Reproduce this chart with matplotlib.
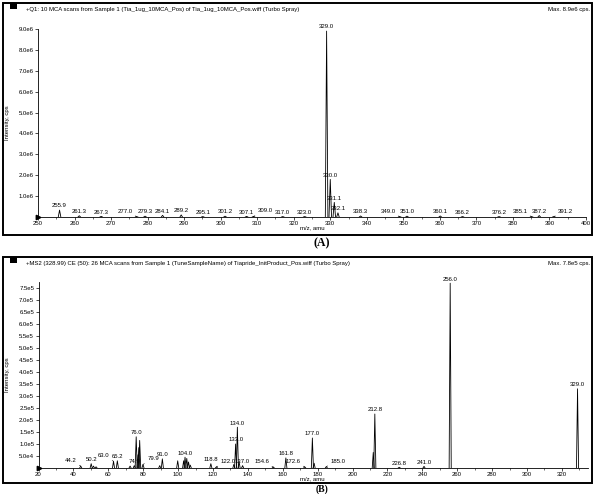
import matplotlib
matplotlib.use('Agg')
import matplotlib.pyplot as plt
from matplotlib.patches import Rectangle
from matplotlib.ticker import MultipleLocator, FuncFormatter

plt.rcParams['font.family'] = ['Liberation Sans', 'DejaVu Sans']

# Panel A: Q1 scan
title_a = '+Q1: 10 MCA scans from Sample 1 (Tia_1ug_10MCA_Pos) of Tia_1ug_10MCA_Pos.wiff (Turbo Spray)'
max_a = 'Max. 8.9e6 cps.'
mz_a = [255.9, 261.3, 267.3, 277.0, 279.3, 284.1, 289.2, 295.1, 301.2, 307.1, 309.0,
        317.0, 323.0, 329.0, 330.0, 331.1, 332.1, 338.3, 349.0, 351.0, 360.1, 366.2,
        376.2, 385.1, 387.2, 391.2]
int_a = [0.33e6, 0.06e6, 0.03e6, 0.02e6, 0.04e6, 0.08e6, 0.10e6, 0.02e6, 0.04e6, 0.03e6, 0.03e6,
         0.02e6, 0.02e6, 8.9e6, 1.8e6, 0.7e6, 0.2e6, 0.05e6, 0.02e6, 0.04e6, 0.05e6, 0.02e6,
         0.02e6, 0.02e6, 0.07e6, 0.02e6]
lab_a = ['%.1f' % m for m in mz_a]
xticks_a = list(range(250, 401, 10))
yticks_a = [1e6, 2e6, 3e6, 4e6, 5e6, 6e6, 7e6, 8e6, 9e6]

# Panel B: MS2 product ion scan
title_b = '+MS2 (328.99) CE (50): 26 MCA scans from Sample 1 (TuneSampleName) of Tiapride_InitProduct_Pos.wiff (Turbo Spray)'
max_b = 'Max. 7.8e5 cps.'
mz_b = [44.2, 50.2, 51.5, 53.0, 63.0, 65.2, 72.5, 74.9, 76.0, 77.0, 77.5, 78.0, 79.9,
        89.5, 91.0, 99.8, 103.2, 104.0, 105.0, 106.0, 107.0, 118.8, 122.0, 132.0, 133.0,
        134.0, 135.0, 137.0, 154.6, 161.8, 172.6, 177.0, 178.0, 185.0, 211.9, 212.8,
        226.8, 241.0, 256.0, 329.0]
int_b = [0.08e5, 0.18e5, 0.08e5, 0.05e5, 0.28e5, 0.30e5, 0.08e5, 0.10e5, 1.30e5, 0.55e5, 0.85e5, 1.15e5, 0.15e5,
         0.10e5, 0.38e5, 0.30e5, 0.30e5, 0.45e5, 0.40e5, 0.25e5, 0.12e5, 0.18e5, 0.05e5, 0.15e5, 1.00e5,
         1.70e5, 0.25e5, 0.10e5, 0.04e5, 0.42e5, 0.05e5, 1.25e5, 0.20e5, 0.06e5, 0.65e5, 2.25e5,
         0.03e5, 0.07e5, 7.70e5, 3.30e5]
lab_b = ['44.2', '50.2', '', '', '63.0', '65.2', '', '74.9', '76.0', '', '', '', '79.9',
         '', '91.0', '', '', '104.0', '', '', '', '118.8', '122.0', '', '133.0',
         '134.0', '', '137.0', '154.6', '161.8', '172.6', '177.0', '', '185.0', '', '212.8',
         '226.8', '241.0', '256.0', '329.0']
xticks_b = list(range(20, 321, 20))
yticks_b = [0.5e5, 1.0e5, 1.5e5, 2.0e5, 2.5e5, 3.0e5, 3.5e5, 4.0e5, 4.5e5, 5.0e5,
            5.5e5, 6.0e5, 6.5e5, 7.0e5, 7.5e5]

# labels drawn off to one side with a short leader line
leaders_a = {'277.0': 'l', '309.0': 'r', '349.0': 'l', '385.1': 'l', '391.2': 'r'}
leaders_b = {'44.2': 'l', '63.0': 'l', '79.9': 'r', '122.0': 'r',
             '154.6': 'l', '172.6': 'l', '185.0': 'r'}

W, H = 597, 494
FS = 4.3


def fx(px):
    return px / W


def fy(py):
    return 1 - py / H


def sci(v, pos):
    if v == 0:
        return ''
    s = '%.1e' % v
    m, e = s.split('e')
    return '%se%d' % (m, int(e))


def draw_panel(fig, rect_px, ax_px, xlim, ylim, mz, inten, labels, leaders,
               xticks, yticks, xminor, width, title, maxtxt, panel_label, label_y, label_fs):
    # outer frame
    x0, y0, x1, y1 = rect_px
    fig.patches.append(Rectangle((fx(x0), fy(y1)), fx(x1 - x0), (y1 - y0) / H,
                                 transform=fig.transFigure, fill=False,
                                 edgecolor='black', linewidth=1.4))
    fig.patches.append(Rectangle((fx(x0 + 7), fy(y0 + 6)), fx(7), 6 / H,
                                 transform=fig.transFigure, facecolor='black',
                                 edgecolor='none'))
    fig.text(fx(x0 + 23), fy(y0 + 6), title, fontsize=FS, ha='left', va='center')
    fig.text(fx(x1 - 2), fy(y0 + 6), maxtxt, fontsize=FS, ha='right', va='center')

    l, t, r, b = ax_px
    ax = fig.add_axes([fx(l), fy(b), fx(r - l), (b - t) / H])
    for m, h in zip(mz, inten):
        ax.plot([m - width, m, m + width], [0, h, 0], color='black', linewidth=0.6)
    for m, h, lab in zip(mz, inten, labels):
        if not lab:
            continue
        side = leaders.get(lab)
        if side is None:
            ax.annotate(lab, (m, h), xytext=(0, 1.2), textcoords='offset points',
                        ha='center', va='bottom', fontsize=FS)
        else:
            dx = -3 if side == 'l' else 3
            ax.annotate(lab, (m, h), xytext=(dx, 2.2), textcoords='offset points',
                        ha='right' if side == 'l' else 'left', va='bottom', fontsize=FS,
                        arrowprops=dict(arrowstyle='-', linewidth=0.4, color='black',
                                        shrinkA=0, shrinkB=0))

    ax.set_xlim(*xlim)
    ax.set_ylim(*ylim)
    ax.set_xticks(xticks)
    ax.xaxis.set_minor_locator(MultipleLocator(xminor))
    ax.set_yticks(yticks)
    ax.yaxis.set_major_formatter(FuncFormatter(sci))
    ax.spines[['top', 'right']].set_visible(False)
    ax.spines[['left', 'bottom']].set_linewidth(0.6)
    ax.tick_params(labelsize=FS, length=2.2, width=0.5, pad=1)
    ax.tick_params(which='minor', length=1.2, width=0.4)
    ax.patch.set_visible(False)
    ax.plot([xlim[0]], [0], marker='>', color='black', markersize=3.2, clip_on=False)

    fig.text(fx(7), fy((t + b) / 2), 'Intensity, cps', rotation=90, fontsize=FS,
             ha='center', va='center')
    fig.text(fx(312), fy(b + 11), 'm/z, amu', fontsize=FS, ha='center', va='center')
    fig.text(fx(322), fy(label_y), panel_label, fontsize=label_fs, fontweight='bold',
             family='Liberation Serif', ha='center', va='center')
    return ax


def main():
    fig = plt.figure(figsize=(W / 100, H / 100), dpi=100)
    draw_panel(fig, (3, 3, 592, 235), (38, 29, 586, 217), (250, 400), (0, 9.0e6),
               mz_a, int_a, lab_a, leaders_a, xticks_a, yticks_a, 5, 0.35,
               title_a, max_a, '(A)', 243, 8.5)
    draw_panel(fig, (3, 257, 592, 483), (38.5, 282, 588, 468), (20, 335), (0, 7.75e5),
               mz_b, int_b, lab_b, leaders_b, xticks_b, yticks_b, 10, 0.6,
               title_b, max_b, '(B)', 489, 7)
    fig.savefig('out.png', dpi=100)
    plt.close(fig)


if __name__ == '__main__':
    main()
